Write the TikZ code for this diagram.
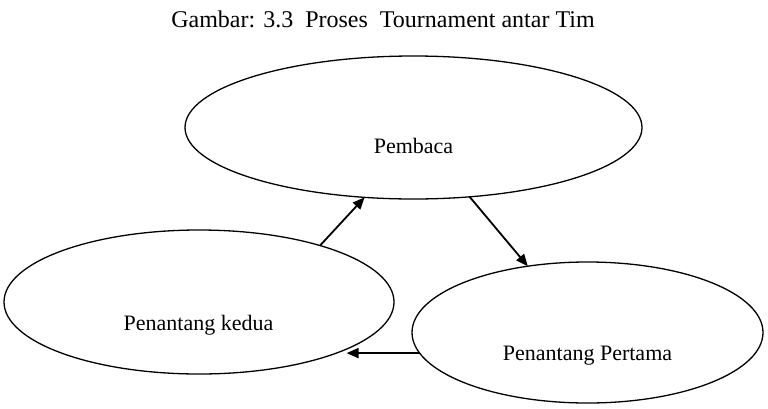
\documentclass[tikz,border=0pt]{standalone}
\usepackage{fontspec}
\setmainfont{Liberation Serif}
\usetikzlibrary{shapes.geometric,arrows.meta}
\tikzset{
  oval/.style={ellipse, draw, line width=1.3pt, inner sep=0pt, outer sep=0pt},
  lbl/.style={anchor=base, inner sep=0pt, font=\fontsize{22}{26}\selectfont},
  flow/.style={line width=1.8pt, -{Triangle[length=12pt,width=10pt]}}
}
\begin{document}
\begin{tikzpicture}[x=1pt,y=-1pt]
\useasboundingbox (0,0) rectangle (768,408);
\node[anchor=base, inner sep=0pt, font=\fontsize{24}{28}\selectfont] (title) at (383,27) {Gambar: 3.3\ \ Proses\ \ Tournament antar Tim};
\node[oval, minimum width=457pt, minimum height=143pt] (pembaca) at (413.5,127.5) {};
\node[oval, minimum width=390pt, minimum height=144pt] (kedua) at (199,302) {};
\node[oval, minimum width=351pt, minimum height=141pt] (pertama) at (587.5,332.5) {};
\node[lbl] (lpembaca) at (413.5,153) {Pembaca};
\node[lbl] (lkedua) at (198.5,330) {Penantang kedua};
\node[lbl] (lpertama) at (587.5,360) {Penantang Pertama};
\draw[flow] (kedua.25) -- (pembaca.235);
\draw[flow] (pembaca.309) -- (pertama.132);
\draw[flow] (pertama.187) -- ([xshift=5pt]pertama.187 -| kedua.341);
\end{tikzpicture}
\end{document}
